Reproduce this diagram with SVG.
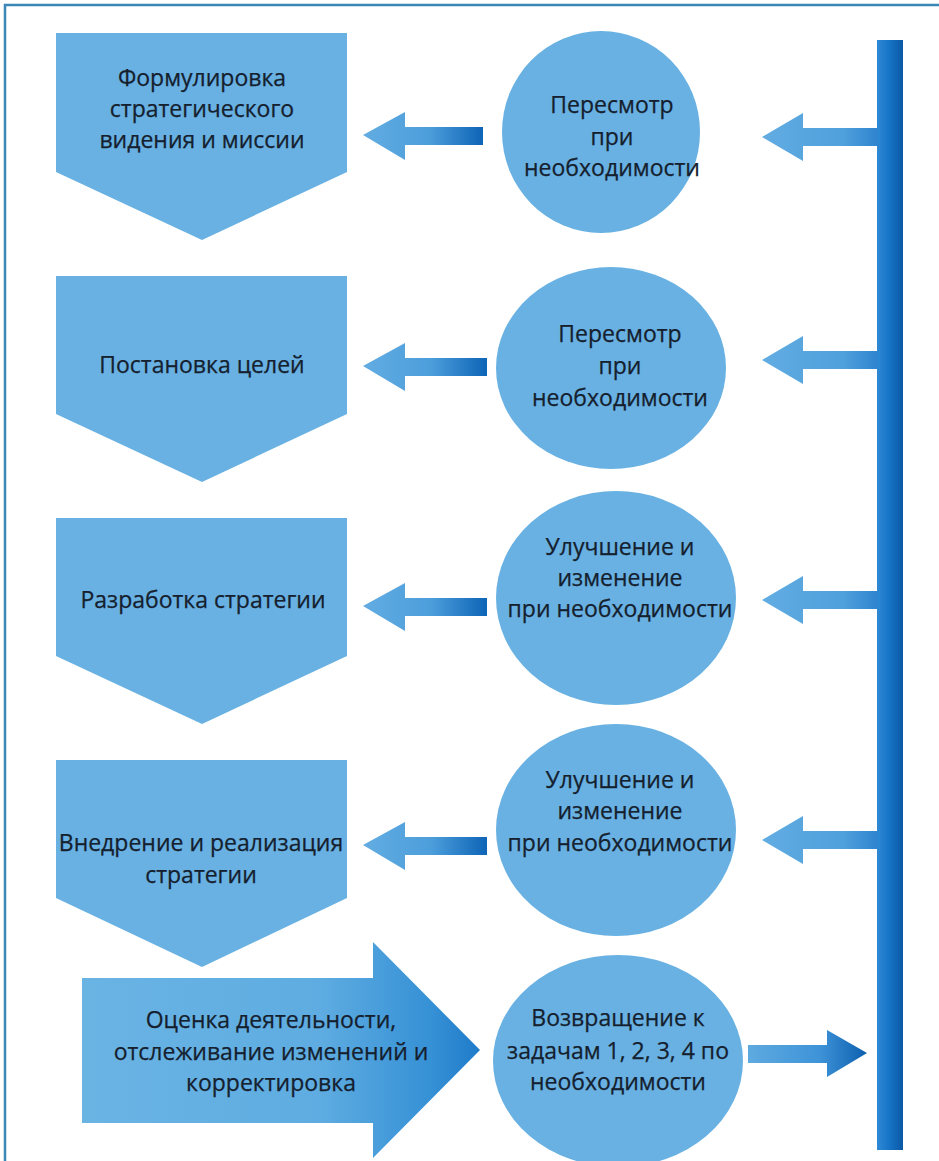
<svg xmlns="http://www.w3.org/2000/svg" width="939" height="1161" viewBox="0 0 939 1161">
<style>
.shape{fill:#68b1e2}
.t{font-family:"Open Sans","Noto Sans","Liberation Sans",sans-serif;font-size:23px;fill:#15202e;stroke:#15202e;stroke-width:0.25;text-anchor:middle}
</style>
<defs>
<linearGradient id="gLeft" x1="0" y1="0" x2="1" y2="0">
<stop offset="0" stop-color="#62ace2"/><stop offset="0.55" stop-color="#4c9edb"/><stop offset="1" stop-color="#0e64b6"/>
</linearGradient>
<linearGradient id="gBarArrow" x1="0" y1="0" x2="1" y2="0">
<stop offset="0" stop-color="#62ace2"/><stop offset="0.7" stop-color="#4fa0dc"/><stop offset="1" stop-color="#2e84cf"/>
</linearGradient>
<linearGradient id="gRight" x1="0" y1="0" x2="1" y2="0">
<stop offset="0" stop-color="#5eaae0"/><stop offset="0.6" stop-color="#3e93d8"/><stop offset="1" stop-color="#0d5fae"/>
</linearGradient>
<linearGradient id="gBar" x1="0" y1="0" x2="1" y2="0">
<stop offset="0" stop-color="#2f8ad6"/><stop offset="0.5" stop-color="#1572c4"/><stop offset="1" stop-color="#0b58a4"/>
</linearGradient>
<linearGradient id="gBig" x1="0" y1="0" x2="1" y2="0">
<stop offset="0" stop-color="#6ab4e4"/><stop offset="0.6" stop-color="#5eace1"/><stop offset="0.88" stop-color="#3590d5"/><stop offset="1" stop-color="#1f7bc9"/>
</linearGradient>
</defs>
<rect width="939" height="1161" fill="#ffffff"/>
<path d="M5,1161 V5 H939" fill="none" stroke="#3b87b8" stroke-width="2.5"/>

<g id="step1">
<polygon class="shape" points="56,33 347,33 347,172 202,240 56,172"/>
<text class="t" x="202" y="86">Формулировка</text>
<text class="t" x="202" y="117">стратегического</text>
<text class="t" x="202" y="148">видения и миссии</text>
</g>
<g id="step2">
<polygon class="shape" points="56,276 347,276 347,414 202,482 56,414"/>
<text class="t" x="202" y="373">Постановка целей</text>
</g>
<g id="step3">
<polygon class="shape" points="56,518 347,518 347,656 202,724 56,656"/>
<text class="t" x="203" y="608">Разработка стратегии</text>
</g>
<g id="step4">
<polygon class="shape" points="56,760 347,760 347,898 202,967 56,898"/>
<text class="t" x="201" y="851">Внедрение и реализация</text>
<text class="t" x="201" y="883">стратегии</text>
</g>
<g id="step5">
<polygon fill="url(#gBig)" points="82,978 373,978 373,942 480,1050 373,1158 373,1123 82,1123"/>
<text class="t" x="271" y="1028">Оценка деятельности,</text>
<text class="t" x="271" y="1060">отслеживание изменений и</text>
<text class="t" x="271" y="1091">корректировка</text>
</g>

<g id="review1">
<ellipse class="shape" cx="601" cy="132" rx="99" ry="101"/>
<text class="t" x="612" y="113">Пересмотр</text>
<text class="t" x="612" y="145">при</text>
<text class="t" x="612" y="176">необходимости</text>
</g>
<g id="review2">
<ellipse class="shape" cx="611" cy="368" rx="115" ry="101"/>
<text class="t" x="620" y="342">Пересмотр</text>
<text class="t" x="620" y="374">при</text>
<text class="t" x="620" y="406">необходимости</text>
</g>
<g id="improve3">
<ellipse class="shape" cx="616" cy="598" rx="120" ry="107"/>
<text class="t" x="620" y="555">Улучшение и</text>
<text class="t" x="620" y="586">изменение</text>
<text class="t" x="620" y="617">при необходимости</text>
</g>
<g id="improve4">
<ellipse class="shape" cx="616" cy="830" rx="120" ry="106"/>
<text class="t" x="620" y="788">Улучшение и</text>
<text class="t" x="620" y="819">изменение</text>
<text class="t" x="620" y="851">при необходимости</text>
</g>
<g id="return5">
<ellipse class="shape" cx="618" cy="1061" rx="125" ry="106"/>
<text class="t" x="618" y="1026">Возвращение к</text>
<text class="t" x="618" y="1059">задачам 1, 2, 3, 4 по</text>
<text class="t" x="618" y="1090">необходимости</text>
</g>

<g id="feedback-bar">
<rect x="877" y="40" width="26" height="1110" fill="url(#gBar)"/>
</g>

<g id="connectors">
<polygon fill="url(#gLeft)" points="363,135 405,112 405,127 483,127 483,145 405,145 405,160"/>
<polygon fill="url(#gLeft)" points="363,366 405,343 405,358 487,358 487,376 405,376 405,391"/>
<polygon fill="url(#gLeft)" points="363,606 405,583 405,598 487,598 487,616 405,616 405,631"/>
<polygon fill="url(#gLeft)" points="363,845 405,822 405,837 487,837 487,855 405,855 405,870"/>
<polygon fill="url(#gBarArrow)" points="762,137 803,113 803,128 878,128 878,146 803,146 803,161"/>
<polygon fill="url(#gBarArrow)" points="762,360 803,336 803,351 878,351 878,369 803,369 803,384"/>
<polygon fill="url(#gBarArrow)" points="762,600 803,576 803,591 878,591 878,609 803,609 803,624"/>
<polygon fill="url(#gBarArrow)" points="762,840 803,816 803,831 878,831 878,849 803,849 803,864"/>
<polygon fill="url(#gRight)" points="748,1045 827,1045 827,1030 867,1053 827,1077 827,1063 748,1063"/>
</g>
</svg>
